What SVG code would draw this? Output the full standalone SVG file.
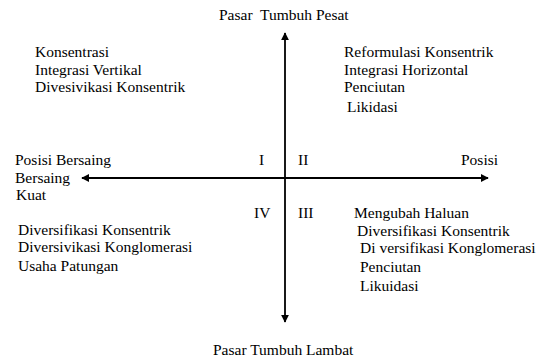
<svg xmlns="http://www.w3.org/2000/svg" width="542" height="358" viewBox="0 0 542 358">
<style>
text{font-family:"Liberation Serif","Times New Roman",serif;font-size:15.5px;fill:#000;white-space:pre}
.ax{stroke:#000;stroke-width:1.8;fill:none}
</style>
<defs>
<marker id="ah" viewBox="0 0 10 10" refX="9" refY="5" markerWidth="8" markerHeight="8" markerUnits="userSpaceOnUse" orient="auto">
<path d="M0,0 L10,5 L0,10 z" fill="#000"/>
</marker>
</defs>
<rect width="542" height="358" fill="#fff"/>
<g id="connectors">
<line class="ax" x1="285" y1="178" x2="285" y2="33" marker-end="url(#ah)"/>
<line class="ax" x1="285" y1="178" x2="285" y2="322" marker-end="url(#ah)"/>
<line class="ax" x1="285" y1="178" x2="82" y2="178" marker-end="url(#ah)"/>
<line class="ax" x1="285" y1="178" x2="488" y2="178" marker-end="url(#ah)"/>
</g>
<g id="top-label"><text x="219" y="20">Pasar  Tumbuh Pesat</text></g>
<g id="bottom-label"><text x="213" y="355">Pasar Tumbuh Lambat</text></g>
<g id="left-label">
<text x="15" y="165">Posisi Bersaing</text>
<text x="15" y="183">Bersaing</text>
<text x="16" y="200">Kuat</text>
</g>
<g id="right-label"><text x="461" y="165">Posisi</text></g>
<g id="quadrant-I">
<text x="259" y="165">I</text>
<text x="35" y="57">Konsentrasi</text>
<text x="35" y="75">Integrasi Vertikal</text>
<text x="35" y="92">Divesivikasi Konsentrik</text>
</g>
<g id="quadrant-II">
<text x="298" y="165">II</text>
<text x="344" y="57">Reformulasi Konsentrik</text>
<text x="344" y="75">Integrasi Horizontal</text>
<text x="344" y="92">Penciutan</text>
<text x="347" y="112">Likidasi</text>
</g>
<g id="quadrant-IV">
<text x="254" y="218">IV</text>
<text x="18" y="235">Diversifikasi Konsentrik</text>
<text x="18" y="252">Diversivikasi Konglomerasi</text>
<text x="18" y="271">Usaha Patungan</text>
</g>
<g id="quadrant-III">
<text x="298" y="218">III</text>
<text x="354" y="218">Mengubah Haluan</text>
<text x="357" y="236">Diversifikasi Konsentrik</text>
<text x="360" y="253">Di versifikasi Konglomerasi</text>
<text x="360" y="272">Penciutan</text>
<text x="360" y="291">Likuidasi</text>
</g>
</svg>
